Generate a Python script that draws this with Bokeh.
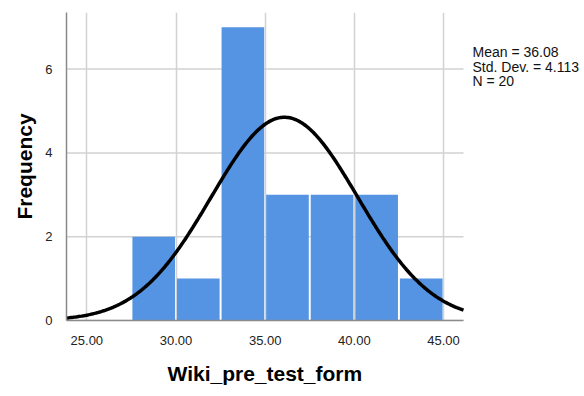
import numpy as np
from bokeh.plotting import figure
from bokeh.models import Label, FixedTicker, Range1d, Title
from bokeh.embed import file_html
from bokeh.resources import INLINE

# Data
bin_left = [27.5, 30.0, 32.5, 35.0, 37.5, 40.0, 42.5]
bin_right = [30.0, 32.5, 35.0, 37.5, 40.0, 42.5, 45.0]
counts = [2, 1, 7, 3, 3, 3, 1]
mean_val = 36.08
sd_val = 4.113
n_val = 20
x_ticks = [25, 30, 35, 40, 45]
x_tick_labels = ["25.00", "30.00", "35.00", "40.00", "45.00"]
y_ticks = [0, 2, 4, 6]
x_label = "Wiki_pre_test_form"

FONT = "Liberation Sans"
W, H = 584, 396
LEFT, TOP, BOTTOM, RIGHT = 66, 12, 74, 4
PLOT_W = 397                     # pixel width of the data area (grid/axis extent)
xmin, xmax = 23.86, 46.12
ymax = 7.35
frame_w = W - LEFT - RIGHT
x_end = xmin + (xmax - xmin) * frame_w / PLOT_W

p = figure(width=W, height=H, output_backend="svg", toolbar_location=None,
           x_range=Range1d(xmin, x_end), y_range=Range1d(0, ymax),
           min_border_left=LEFT, min_border_right=RIGHT, min_border_top=TOP,
           min_border_bottom=BOTTOM)
p.outline_line_color = None
p.background_fill_color = "white"

GRID_COLOR = "#d2d2d2"
# vertical grid lines
p.xgrid.ticker = FixedTicker(ticks=x_ticks)
p.xgrid.grid_line_color = GRID_COLOR
p.xgrid.grid_line_width = 1.5
# horizontal grid lines limited to data area
p.ygrid.grid_line_color = None
p.segment(x0=[xmin] * len(y_ticks), x1=[xmax] * len(y_ticks), y0=y_ticks, y1=y_ticks,
          line_color=GRID_COLOR, line_width=1.5, level="underlay")

# bars
bw = 2.5
gap = 0.11
centers = [(l + r) / 2 for l, r in zip(bin_left, bin_right)]
p.vbar(x=centers, top=counts, bottom=0, width=bw - gap, fill_color="#5494E3", line_color=None)

# normal curve
xs = np.linspace(xmin, xmax, 300)
ys = n_val * bw * np.exp(-0.5 * ((xs - mean_val) / sd_val) ** 2) / (sd_val * np.sqrt(2 * np.pi))
p.line(xs, ys, line_color="black", line_width=3.5)

# axes
p.xaxis.ticker = FixedTicker(ticks=x_ticks)
p.xaxis.major_label_overrides = {t: l for t, l in zip(x_ticks, x_tick_labels)}
p.xaxis.bounds = (xmin, xmax)
p.yaxis.ticker = FixedTicker(ticks=y_ticks)
for ax in (p.xaxis, p.yaxis):
    ax.axis_line_color = "#8a8a8a"
    ax.axis_line_width = 1.5
    ax.major_tick_line_color = None
    ax.minor_tick_line_color = None
    ax.major_label_text_font = FONT
    ax.major_label_text_font_size = "13px"
    ax.major_label_text_color = "#222222"
    ax.axis_label_text_font = FONT
    ax.axis_label_text_font_size = "21px"
    ax.axis_label_text_font_style = "bold"
    ax.axis_label_text_color = "black"
p.yaxis.axis_label = "Frequency"
p.xaxis.major_label_standoff = 9
p.yaxis.major_label_standoff = 8
p.yaxis.axis_label_standoff = 6

# x-axis title, centred under the data area (not the whole extended frame)
TITLE_TEXT_W = 195               # approx. rendered width of the bold 21px label
x_title = Title(text=x_label, align="left", offset=PLOT_W / 2 - TITLE_TEXT_W / 2,
                text_font=FONT, text_font_size="21px", text_font_style="bold",
                text_color="black", standoff=24)
p.add_layout(x_title, "below")

# stats text (screen units: from frame left / frame bottom)
stats = [f"Mean = {mean_val:.2f}", f"Std. Dev. = {sd_val:.3f}", f"N = {n_val}"]
frame_bottom = H - BOTTOM
for i, s in enumerate(stats):
    baseline_page_y = 53.5 + i * 14.5
    p.add_layout(Label(x=472 - LEFT, y=frame_bottom - baseline_page_y,
                       x_units="screen", y_units="screen", text=s,
                       text_font=FONT, text_font_size="14px", text_baseline="alphabetic",
                       text_color="#111111"))

open("out.html", "w").write(file_html(p, INLINE))
